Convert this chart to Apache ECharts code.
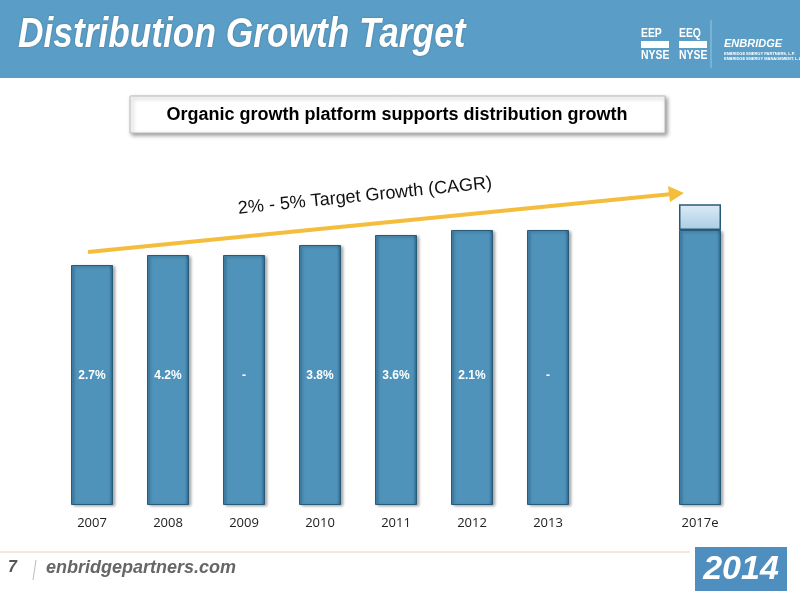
<!DOCTYPE html>
<html><head><meta charset="utf-8">
<script src="https://cdn.jsdelivr.net/npm/echarts@6/dist/echarts.min.js"></script>
<style>html,body{margin:0;padding:0;background:#fff}#c{width:800px;height:600px}</style>
</head><body><div id="c"></div>
<script>
const categories = ['2007','2008','2009','2010','2011','2012','2013','','2017e'];
const baseValues = [240,250,250,260,270,275,275,null,275];
const targetValues = [null,null,null,null,null,null,null,null,37];
const growthLabels = ['2.7%','4.2%','-','3.8%','3.6%','2.1%','-','',''];

const chart = echarts.init(document.getElementById('c'));
const barStyle = {color:new echarts.graphic.LinearGradient(0,0,1,0,[{offset:0,color:'#3f7ea6'},{offset:0.1,color:'#4f93bb'},{offset:0.9,color:'#4f93bb'},{offset:1,color:'#2f6283'}]),borderColor:'#2a5a7a',borderWidth:1,shadowColor:'rgba(0,0,0,0.35)',shadowBlur:3,shadowOffsetX:2,shadowOffsetY:1};
chart.setOption({
  animation:false,
  grid:{left:54,right:62,top:205,bottom:95},
  xAxis:{type:'category',data:categories,axisLine:{show:false},axisTick:{show:false},
    axisLabel:{color:'#222',fontSize:13,fontFamily:'Open Sans',margin:12}},
  yAxis:{type:'value',min:0,max:300,show:false},
  series:[
    {type:'bar',stack:'a',barWidth:42,data:baseValues,itemStyle:barStyle,
     label:{show:true,position:'insideBottom',distance:123,color:'#fff',fontSize:12,fontFamily:'Arial',fontWeight:'bold',
       formatter:p=>growthLabels[p.dataIndex]}},
    {type:'bar',stack:'a',barWidth:42,data:targetValues,
     itemStyle:{color:new echarts.graphic.LinearGradient(0,0,0,1,[{offset:0,color:'#dcebf5'},{offset:1,color:'#a9cde4'}]),borderColor:'#2a5a7a',borderWidth:1.5}}
  ],
  graphic:[
    {type:'rect',shape:{x:0,y:0,width:800,height:78},style:{fill:'#5a9ec7'},z:-1},
    {type:'text',x:18,y:14,scaleX:0.84,style:{text:'Distribution Growth Target',fill:'#fff',font:'italic bold 42px "Liberation Sans"',textShadowColor:'rgba(0,0,0,0.3)',textShadowBlur:2}},
    {type:'text',x:641,y:28,scaleX:0.8,style:{text:'EEP\n\nNYSE',fill:'#fff',font:'bold 13px "Liberation Sans"',lineHeight:11}},
    {type:'text',x:679,y:28,scaleX:0.8,style:{text:'EEQ\n\nNYSE',fill:'#fff',font:'bold 13px "Liberation Sans"',lineHeight:11}},
    {type:'rect',shape:{x:641,y:41,width:28,height:7},style:{fill:'#fff'}},
    {type:'rect',shape:{x:679,y:41,width:28,height:7},style:{fill:'#fff'}},
    {type:'line',shape:{x1:711,y1:20,x2:711,y2:68},style:{stroke:'#9cc6e0',lineWidth:1}},
    {type:'text',left:724,top:38,style:{text:'ENBRIDGE',fill:'#fff',font:'italic bold 11px Liberation Sans'}},
    {type:'text',left:724,top:51,style:{text:'ENBRIDGE ENERGY PARTNERS, L.P.\nENBRIDGE ENERGY MANAGEMENT, L.L.C.',fill:'#fff',font:'bold 4px Liberation Sans',lineHeight:5}},
    {type:'rect',shape:{x:130,y:96,width:535,height:37},style:{fill:'#fff',stroke:'#bbb',lineWidth:1,shadowColor:'rgba(0,0,0,0.4)',shadowBlur:4,shadowOffsetX:2,shadowOffsetY:2}},
    {type:'text',x:397,y:115,style:{text:'Organic growth platform supports distribution growth',fill:'#000',font:'bold 18px Liberation Sans',align:'center',verticalAlign:'middle'}},
    {type:'line',shape:{x1:88,y1:252,x2:672,y2:194},style:{stroke:'#f5bd3c',lineWidth:4}},
    {type:'polygon',shape:{points:[[684,193],[668,186],[670,202]]},style:{fill:'#f5bd3c'}},
    {type:'text',x:365,y:196,rotation:0.1,style:{text:'2% - 5% Target Growth (CAGR)',fill:'#111',font:'18px Liberation Sans',align:'center',verticalAlign:'middle'}},
    {type:'line',shape:{x1:0,y1:552,x2:690,y2:552},style:{stroke:'#e2d7b0',lineWidth:1}},
    {type:'text',left:8,top:560,style:{text:'7',fill:'#555',font:'italic bold 16px Liberation Sans'}},
    {type:'line',shape:{x1:36,y1:560,x2:33,y2:580},style:{stroke:'#bbb',lineWidth:1}},
    {type:'text',left:46,top:559,style:{text:'enbridgepartners.com',fill:'#666',font:'italic bold 18px Liberation Sans'}},
    {type:'rect',shape:{x:695,y:547,width:92,height:44},style:{fill:'#4f8fbf'}},
    {type:'text',x:741,y:570,style:{text:'2014',fill:'#fff',font:'italic bold 34px Liberation Sans',align:'center',verticalAlign:'middle'}}
  ]
});
</script></body></html>
